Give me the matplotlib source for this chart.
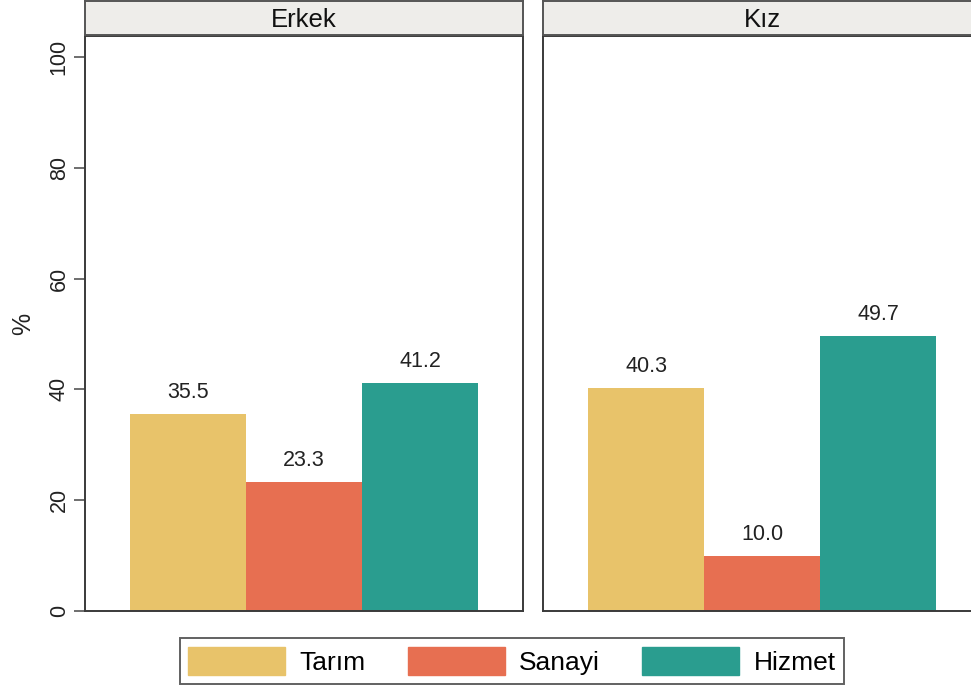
import matplotlib.pyplot as plt
import numpy as np

plt.rcParams['font.family'] = ['Liberation Sans', 'DejaVu Sans']

panels = ["Erkek", "Kız"]
sectors = ["Tarım", "Sanayi", "Hizmet"]
values = {
    "Erkek": [35.5, 23.3, 41.2],
    "Kız": [40.3, 10.0, 49.7],
}
colors = ["#E8C36A", "#E76F51", "#2A9D8F"]
yticks = [0, 20, 40, 60, 80, 100]

W, H = 971, 688
fig = plt.figure(figsize=(W / 100, H / 100), dpi=100)

def px_rect(x0, y0, x1, y1):
    # pixel box (top-left origin) -> figure fraction
    return [x0 / W, 1 - y1 / H, (x1 - x0) / W, (y1 - y0) / H]

frame = "#3a3a3a"
lefts = [85, 543]
x = np.arange(len(sectors))

for i, (name, left) in enumerate(zip(panels, lefts)):
    ax = fig.add_axes(px_rect(left, 36, left + 438, 611))
    bars = ax.bar(x, values[name], width=1.0, color=colors, edgecolor="none")
    for b, v in zip(bars, values[name]):
        ax.text(b.get_x() + b.get_width() / 2, v + 2.0, f"{v:.1f}",
                ha="center", va="bottom", fontsize=15.5, color="#222222")
    ax.set_xlim(-0.888, 2.888)
    ax.set_ylim(0, 103.8)
    ax.set_xticks([])
    for s in ax.spines.values():
        s.set_color(frame)
        s.set_linewidth(1.4)
    if i == 0:
        ax.set_yticks(yticks)
        ax.set_yticklabels([str(t) for t in yticks], rotation=90, va="center",
                           fontsize=15.5, color="#222222")
        ax.tick_params(axis="y", length=8, width=1.2, color="#555555", pad=3)
        ax.set_ylabel("%", fontsize=18, color="#222222", labelpad=10)
    else:
        ax.set_yticks([])

    # facet strip
    sx = fig.add_axes(px_rect(left, 1, left + 438, 35))
    sx.set_facecolor("#EEEDEA")
    sx.set_xticks([])
    sx.set_yticks([])
    for s in sx.spines.values():
        s.set_color("#555555")
        s.set_linewidth(1.4)
    sx.text(0.5, 0.45, name, ha="center", va="center", fontsize=18.5,
            color="#111111", transform=sx.transAxes)

handles = [plt.Rectangle((0, 0), 1, 1, color=c) for c in colors]
leg = fig.legend(handles, sectors, loc="center", ncol=3,
                 bbox_to_anchor=(512 / W, 1 - 661 / H),
                 fontsize=19, frameon=True, fancybox=False,
                 handlelength=3.67, handleheight=1.3, handletextpad=0.55,
                 columnspacing=1.6, borderpad=0.32, borderaxespad=0)
leg.get_frame().set_edgecolor(frame)
leg.get_frame().set_linewidth(1.4)

fig.savefig("out.png", dpi=100, facecolor="white")
